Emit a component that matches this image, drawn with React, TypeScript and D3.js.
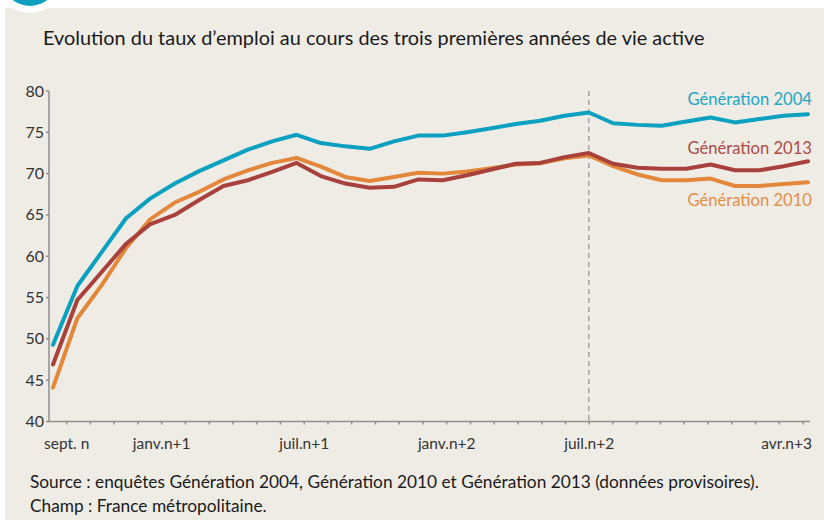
import React, { useEffect, useRef } from 'react'
import * as d3 from 'd3'

// mois de sept. n à avr. n+3
const months = ['sept. n', 'oct. n', 'nov. n', 'déc. n', 'janv.n+1', 'févr.n+1', 'mars n+1', 'avr.n+1', 'mai n+1', 'juin n+1', 'juil.n+1',
  'août n+1', 'sept.n+1', 'oct.n+1', 'nov.n+1', 'déc.n+1', 'janv.n+2', 'févr.n+2', 'mars n+2', 'avr.n+2', 'mai n+2', 'juin n+2', 'juil.n+2',
  'août n+2', 'sept.n+2', 'oct.n+2', 'nov.n+2', 'déc.n+2', 'janv.n+3', 'févr.n+3', 'mars n+3', 'avr.n+3']

const shownLabels = ['sept. n', 'janv.n+1', 'juil.n+1', 'janv.n+2', 'juil.n+2', 'avr.n+3']

const gen2004 = [49.3, 56.4, 60.5, 64.6, 67.0, 68.8, 70.3, 71.6, 72.9, 73.9, 74.7, 73.7, 73.3, 73.0, 73.9, 74.6,
  74.6, 75.0, 75.5, 76.0, 76.4, 77.0, 77.4, 76.1, 75.9, 75.8, 76.3, 76.8, 76.2, 76.6, 77.0, 77.2]
const gen2013 = [46.9, 54.7, 58.1, 61.5, 63.9, 65.0, 66.8, 68.5, 69.2, 70.2, 71.3, 69.7, 68.8, 68.3, 68.4, 69.3,
  69.2, 69.8, 70.5, 71.2, 71.3, 72.0, 72.5, 71.2, 70.7, 70.6, 70.6, 71.1, 70.4, 70.4, 70.9, 71.5]
const gen2010 = [44.1, 52.5, 56.5, 61.0, 64.5, 66.5, 67.8, 69.3, 70.4, 71.3, 71.9, 70.85, 69.6, 69.1, 69.6, 70.1,
  70.0, 70.25, 70.65, 71.1, 71.25, 71.85, 72.2, 70.9, 69.9, 69.2, 69.2, 69.4, 68.5, 68.5, 68.75, 68.95]

const yTicks = [40, 45, 50, 55, 60, 65, 70, 75, 80]

const seriesNames = ['Génération 2004', 'Génération 2013', 'Génération 2010']
const seriesValues = [gen2004, gen2013, gen2010]

const title = 'Evolution du taux d\u2019emploi au cours des trois premières années de vie active'
const notes = ['Source : enquêtes Génération 2004, Génération 2010 et Génération 2013 (données provisoires).',
  'Champ : France métropolitaine.']

const W = 824, H = 526
const font = 'Lato, "Open Sans", sans-serif'

export default function App() {
  const ref = useRef<SVGSVGElement>(null)

  useEffect(() => {
    const svg = d3.select(ref.current)
    svg.selectAll('*').remove()

    const colors = ['#0aa0bf', '#a8413c', '#e3873a']
    const labelColors = ['#22a6c3', '#ac4a45', '#e58d45']

    // fond
    svg.append('rect').attr('width', W).attr('height', H).attr('fill', '#fff')
    svg.append('rect').attr('x', 5).attr('y', 8).attr('width', W - 5).attr('height', 512).attr('fill', '#efece6')
    svg.append('circle').attr('cx', 30).attr('cy', -22).attr('r', 35).attr('fill', '#fff')
    svg.append('circle').attr('cx', 30).attr('cy', -22).attr('r', 28).attr('fill', '#0e9fbd')

    svg.append('text').attr('x', 43).attr('y', 45).text(title)
      .style('font-family', font).style('font-size', '19.9px').style('fill', '#1a1a1a')

    const plot = { left: 49, right: 810, top: 91, bottom: 421.5 }

    const y = d3.scaleLinear().domain([40, 80]).range([plot.bottom, plot.top])
    const x = d3.scalePoint<number>().domain(d3.range(months.length)).range([53, 808])
    // les graduations de l'axe ne tombent pas exactement sur les points
    const xt = d3.scalePoint<number>().domain(d3.range(months.length)).range([66.7, 803])

    const axisColor = '#8f8f8f'

    // axe Y
    svg.append('line').attr('x1', plot.left).attr('x2', plot.left).attr('y1', plot.top).attr('y2', plot.bottom)
      .attr('stroke', axisColor).attr('stroke-width', 1.5)
    const yg = svg.append('g')
    yg.selectAll('line').data(yTicks).enter().append('line')
      .attr('x1', plot.left - 3).attr('x2', plot.left)
      .attr('y1', d => y(d)).attr('y2', d => y(d))
      .attr('stroke', axisColor).attr('stroke-width', 1.5)
    yg.selectAll('text').data(yTicks).enter().append('text')
      .attr('x', plot.left - 5).attr('y', d => y(d) + 5.5)
      .attr('text-anchor', 'end').text(d => d)
      .style('font-family', font).style('font-size', '16px').style('fill', '#333')

    // axe X
    svg.append('line').attr('x1', plot.left).attr('x2', plot.right).attr('y1', plot.bottom).attr('y2', plot.bottom)
      .attr('stroke', axisColor).attr('stroke-width', 1.5)
    const xg = svg.append('g')
    xg.selectAll('line').data(d3.range(months.length)).enter().append('line')
      .attr('x1', d => xt(d)!).attr('x2', d => xt(d)!)
      .attr('y1', plot.bottom).attr('y2', plot.bottom + 3)
      .attr('stroke', axisColor).attr('stroke-width', 1.5)
    const last = months.length - 1
    xg.selectAll('text').data(shownLabels).enter().append('text')
      .attr('x', d => {
        const i = months.indexOf(d)
        return i === last ? plot.right + 2 : xt(i)!
      })
      .attr('y', 449)
      .attr('text-anchor', d => months.indexOf(d) === last ? 'end' : 'middle')
      .text(d => d)
      .style('font-family', font).style('font-size', '15.5px').style('fill', '#333')

    // ligne pointillée juil. n+2
    const ref22 = months.indexOf('juil.n+2')
    svg.append('line').attr('x1', x(ref22)!).attr('x2', x(ref22)!)
      .attr('y1', plot.top).attr('y2', plot.bottom)
      .attr('stroke', '#999').attr('stroke-width', 1.3).attr('stroke-dasharray', '5,4')

    const line = d3.line<number>().x((d, i) => x(i)!).y(d => y(d))

    // 2010 dessous, 2013 par dessus
    const order = [2, 1, 0]
    order.forEach(k => {
      svg.append('path').attr('d', line(seriesValues[k]))
        .attr('fill', 'none').attr('stroke', colors[k]).attr('stroke-width', 4)
        .attr('stroke-linejoin', 'round').attr('stroke-linecap', 'round')
    })

    // étiquettes des séries
    const labelY = [105, 154, 206]
    svg.selectAll('.serie').data(seriesNames).enter().append('text').attr('class', 'serie')
      .attr('x', plot.right + 2).attr('y', (d, i) => labelY[i])
      .attr('text-anchor', 'end').text(d => d)
      .style('font-family', font).style('font-size', '16.6px').style('fill', (d, i) => labelColors[i])

    svg.selectAll('.note').data(notes).enter().append('text').attr('class', 'note')
      .attr('x', 30).attr('y', (d, i) => 488 + i * 24).text(d => d)
      .style('font-family', font).style('font-size', '17.3px').style('fill', '#1a1a1a')
  }, [])

  return <svg ref={ref} width={W} height={H} style={{ position: 'absolute', left: 0, top: 0, display: 'block' }} />
}
